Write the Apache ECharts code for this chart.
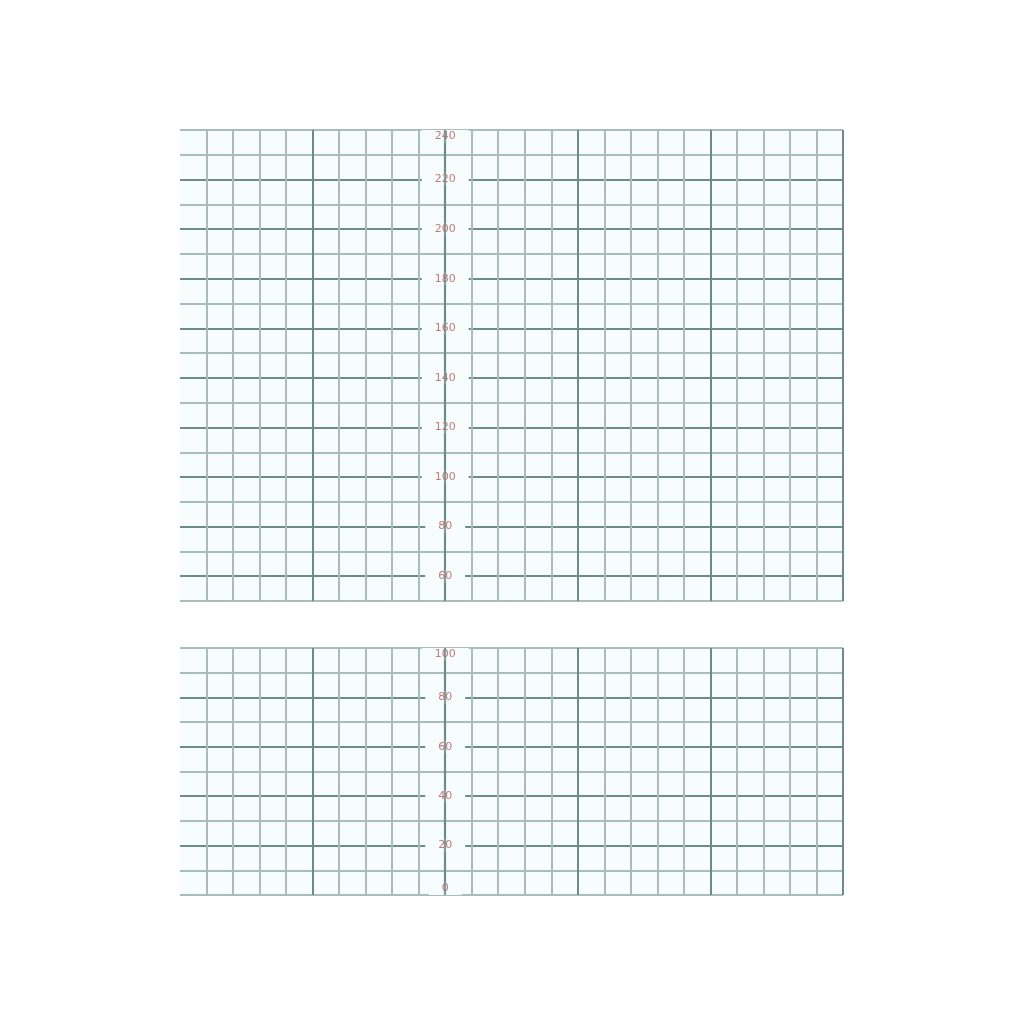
<!DOCTYPE html>
<html>
<head>
<meta charset="utf-8">
<script src="https://cdn.jsdelivr.net/npm/echarts@6/dist/echarts.min.js"></script>
<style>html,body{margin:0;padding:0;background:#fff}#c{width:1024px;height:1024px}</style>
</head>
<body>
<div id="c"></div>
<script>
// Graph-paper axes (no plotted data series)
const xRange = [-10, 15];
const topYRange = [50, 240];
const bottomYRange = [0, 100];
const gridStep = 10;
const labelStep = 20;

const LIGHT = '#a9bebc', DARK = '#6d8c89', NONE = 'rgba(0,0,0,0)';
const BG = '#f7fcfc';
const LABEL_COLOR = '#c47a7a';
const GRID_LEFT = 180, GRID_RIGHT = 181, CHART_W = 1024;
const gridWidth = CHART_W - GRID_LEFT - GRID_RIGHT;
// offset that places the y axis at x = 0 inside the grid
const yAxisOffset = -((0 - xRange[0]) / (xRange[1] - xRange[0])) * gridWidth;

function xColors() {
  const arr = [];
  for (let v = xRange[0]; v <= xRange[1]; v++) {
    if (v === xRange[0]) arr.push(NONE);
    else if (v % 5 === 0) arr.push(DARK);
    else arr.push(LIGHT);
  }
  return arr;
}
function yColors(range) {
  const arr = [];
  for (let v = range[0]; v <= range[1]; v += gridStep) {
    if (v === range[0] || v === range[1]) arr.push(LIGHT);
    else if (v % labelStep === 0) arr.push(DARK);
    else arr.push(LIGHT);
  }
  return arr;
}
function xAxisOpt(gi) {
  return {
    type: 'value', gridIndex: gi, min: xRange[0], max: xRange[1], interval: 1,
    axisLine: {show: false, onZero: false}, axisTick: {show: false}, axisLabel: {show: false},
    splitLine: {show: true, lineStyle: {color: xColors(), width: 2}}
  };
}
function yAxisOpt(gi, range) {
  return {
    type: 'value', gridIndex: gi, min: range[0], max: range[1], interval: gridStep,
    position: 'left', offset: yAxisOffset,
    axisLine: {show: false, onZero: false},
    axisTick: {show: false},
    axisLabel: {
      show: true, margin: 0, align: 'center', color: LABEL_COLOR, fontSize: 11,
      fontFamily: 'DejaVu Sans',
      verticalAlignMaxLabel: 'top', verticalAlignMinLabel: 'bottom',
      formatter: function (v) { return v % labelStep === 0 ? '{b|' + v + '}' : ''; },
      rich: {
        b: {backgroundColor: BG, padding: [1, 13], color: LABEL_COLOR, fontSize: 11, fontFamily: 'DejaVu Sans'}
      }
    },
    splitLine: {show: true, lineStyle: {color: yColors(range), width: 2}}
  };
}
function axisLineSeries(gi) {
  return {
    type: 'line', xAxisIndex: gi, yAxisIndex: gi, data: [], silent: true, z: 10,
    markLine: {
      silent: true, symbol: ['none', 'none'], label: {show: false},
      lineStyle: {color: DARK, width: 2.2, type: 'solid', opacity: 0.85},
      data: [{xAxis: 0}]
    }
  };
}

const chart = echarts.init(document.getElementById('c'));
chart.setOption({
  animation: false,
  backgroundColor: '#ffffff',
  grid: [
    {left: GRID_LEFT, right: GRID_RIGHT, top: 130, height: 471, show: true, backgroundColor: BG, borderWidth: 0},
    {left: GRID_LEFT, right: GRID_RIGHT, top: 648, height: 247, show: true, backgroundColor: BG, borderWidth: 0}
  ],
  xAxis: [xAxisOpt(0), xAxisOpt(1)],
  yAxis: [yAxisOpt(0, topYRange), yAxisOpt(1, bottomYRange)],
  series: [axisLineSeries(0), axisLineSeries(1)]
});
</script>
</body>
</html>
